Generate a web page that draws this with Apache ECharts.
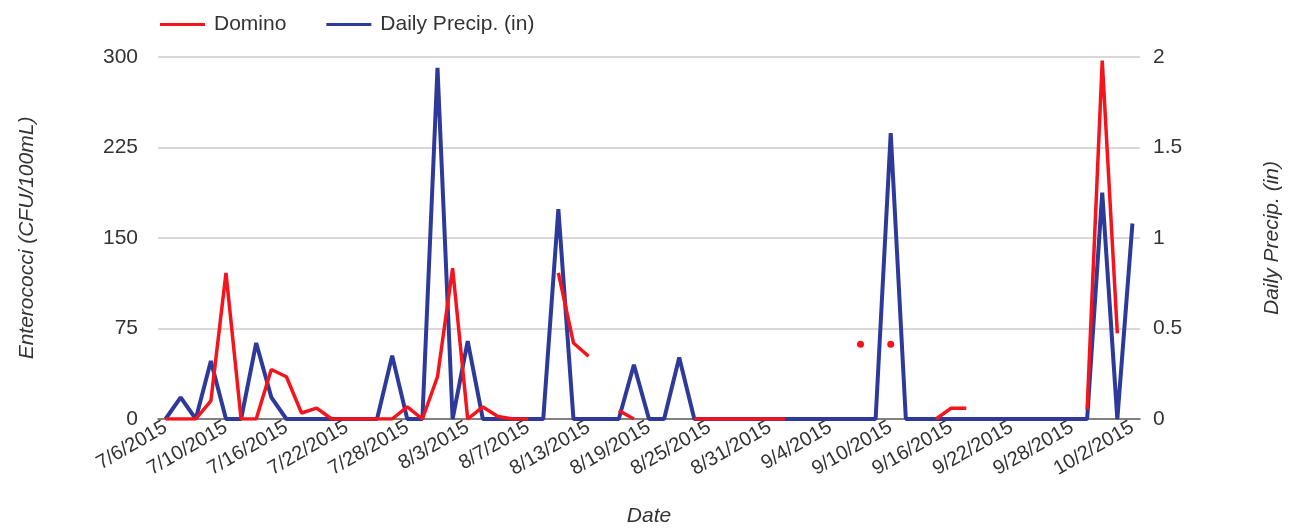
<!DOCTYPE html>
<html>
<head>
<meta charset="utf-8">
<script src="https://cdn.jsdelivr.net/npm/echarts@6/dist/echarts.min.js"></script>
<style>
html,body{margin:0;padding:0;background:#fff;}
#c{width:1293px;height:531px;}
</style>
</head>
<body>
<div id="c"></div>
<script>
// Weekday sample dates (categories)
const dates = [
  '7/6/2015','7/7/2015','7/8/2015','7/9/2015','7/10/2015',
  '7/13/2015','7/14/2015','7/15/2015','7/16/2015','7/17/2015',
  '7/20/2015','7/21/2015','7/22/2015','7/23/2015','7/24/2015',
  '7/27/2015','7/28/2015','7/29/2015','7/30/2015','7/31/2015',
  '8/3/2015','8/4/2015','8/5/2015','8/6/2015','8/7/2015',
  '8/10/2015','8/11/2015','8/12/2015','8/13/2015','8/14/2015',
  '8/17/2015','8/18/2015','8/19/2015','8/20/2015','8/21/2015',
  '8/24/2015','8/25/2015','8/26/2015','8/27/2015','8/28/2015',
  '8/31/2015','9/1/2015','9/2/2015','9/3/2015','9/4/2015',
  '9/7/2015','9/8/2015','9/9/2015','9/10/2015','9/11/2015',
  '9/14/2015','9/15/2015','9/16/2015','9/17/2015','9/18/2015',
  '9/21/2015','9/22/2015','9/23/2015','9/24/2015','9/25/2015',
  '9/28/2015','9/29/2015','9/30/2015','10/1/2015','10/2/2015'
];

// Enterococci (CFU/100mL) at Domino; null = no sample
const domino = [
  0, 0, 0, 15, 121,
  0, 0, 41, 35, 5,
  9, 0, 0, 0, 0,
  0, 10, 0, 35, 125,
  0, 10, 2, 0, 0,
  null, 121, 63, 52, null,
  7, 0, null, null, null,
  0, 0, 0, 0, 0,
  0, 0, null, null, null,
  null, 62, null, 62, null,
  null, 0, 9, 9, null,
  null, null, null, null, null,
  null, 8, 297, 71, null
];

// Daily precipitation (in)
const precip = [
  0, 0.12, 0, 0.32, 0,
  0, 0.42, 0.12, 0, 0,
  0, 0, 0, 0, 0,
  0.35, 0, 0, 1.94, 0,
  0.43, 0, 0, 0, 0,
  0, 1.16, 0, 0, 0,
  0, 0.30, 0, 0, 0.34,
  0, 0, 0, 0, 0,
  0, 0, 0, 0, 0,
  0, 0, 0, 1.58, 0,
  0, 0, 0, 0, 0,
  0, 0, 0, 0, 0,
  0, 0, 1.25, 0, 1.08
];

const leftTicks = [0, 75, 150, 225, 300];
const rightTicks = [0, 0.5, 1, 1.5, 2];

// isolated samples get a dot, others are drawn as line only
const dominoData = domino.map(function (v, i) {
  const prev = i > 0 ? domino[i - 1] : null;
  const next = i < domino.length - 1 ? domino[i + 1] : null;
  if (v !== null && prev === null && next === null) {
    return { value: v, symbol: 'circle', symbolSize: 7 };
  }
  return v;
});

const RED = '#f5141c';
const BLUE = '#2e3a9a';
const TXT = '#333333';
const FONT = '"Liberation Sans", Arial, Helvetica, sans-serif';

const chart = echarts.init(document.getElementById('c'), null, { renderer: 'canvas' });
chart.setOption({
  backgroundColor: '#ffffff',
  animation: false,
  textStyle: { fontFamily: FONT },
  legend: {
    left: 155,
    top: 9,
    icon: 'rect',
    itemWidth: 45,
    itemHeight: 3,
    itemGap: 40,
    textStyle: { fontSize: 21, color: TXT, fontFamily: FONT, padding: [0, 0, 0, 4] },
    data: ['Domino', 'Daily Precip. (in)']
  },
  grid: { left: 158, right: 153, top: 57, bottom: 112, containLabel: false, outerBoundsMode: 'none' },
  xAxis: {
    type: 'category',
    data: dates,
    boundaryGap: true,
    name: 'Date',
    nameLocation: 'middle',
    nameGap: 87,
    nameTextStyle: { fontSize: 21, fontStyle: 'italic', color: TXT, fontFamily: FONT },
    axisLine: { show: true, lineStyle: { color: '#666', width: 1.5 } },
    axisTick: { show: false },
    axisLabel: {
      interval: 3,
      rotate: 30,
      fontSize: 20,
      color: TXT,
      margin: 7,
      fontFamily: FONT
    },
    splitLine: { show: false }
  },
  yAxis: [
    {
      type: 'value',
      min: leftTicks[0],
      max: leftTicks[leftTicks.length - 1],
      interval: leftTicks[1] - leftTicks[0],
      position: 'left',
      name: 'Enterococci (CFU/100mL)',
      nameLocation: 'middle',
      nameRotate: 90,
      nameGap: 120,
      nameTextStyle: { fontSize: 21, fontStyle: 'italic', color: TXT, fontFamily: FONT },
      axisLine: { show: false },
      axisTick: { show: false },
      axisLabel: { fontSize: 21, color: TXT, margin: 20, fontFamily: FONT },
      splitLine: { show: true, lineStyle: { color: '#cfcaca', width: 1.5 } }
    },
    {
      type: 'value',
      min: rightTicks[0],
      max: rightTicks[rightTicks.length - 1],
      interval: rightTicks[1] - rightTicks[0],
      position: 'right',
      name: 'Daily Precip. (in)',
      nameLocation: 'middle',
      nameRotate: 90,
      nameGap: 122,
      nameTextStyle: { fontSize: 21, fontStyle: 'italic', color: TXT, fontFamily: FONT },
      axisLine: { show: false },
      axisTick: { show: false },
      axisLabel: { fontSize: 21, color: TXT, margin: 13, fontFamily: FONT },
      splitLine: { show: false }
    }
  ],
  series: [
    {
      name: 'Daily Precip. (in)',
      type: 'line',
      yAxisIndex: 1,
      data: precip,
      symbol: 'none',
      color: BLUE,
      lineStyle: { color: BLUE, width: 4 },
      z: 2
    },
    {
      name: 'Domino',
      type: 'line',
      yAxisIndex: 0,
      data: dominoData,
      symbol: 'none',
      showAllSymbol: true,
      connectNulls: false,
      color: RED,
      itemStyle: { color: RED },
      lineStyle: { color: RED, width: 3.5 },
      z: 3
    }
  ]
});
</script>
</body>
</html>
